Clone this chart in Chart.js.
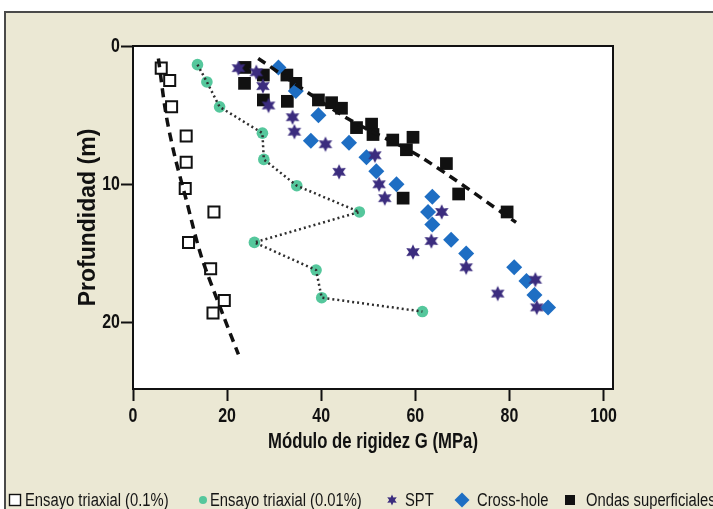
<!DOCTYPE html>
<html>
<head>
<meta charset="utf-8">
<script src="https://cdn.jsdelivr.net/npm/chart.js@4.4.1/dist/chart.umd.min.js"></script>
<style>
  html, body { margin: 0; padding: 0; background: #fff; }
  #wrap { position: relative; width: 713px; height: 509px; overflow: hidden; }
  #legend { position: absolute; left: 0; top: 492px; width: 713px; height: 17px;
            font: 18px "Liberation Sans", Arial, sans-serif; line-height: 16px;
            color: #151515; white-space: nowrap; }
  #legend span { position: absolute; top: 0; transform-origin: 0 50%; }
  #legend canvas { position: absolute; top: 0; }
</style>
</head>
<body>
<div id="wrap">
  <canvas id="chart" width="713" height="509"></canvas>
  <div id="legend"></div>
</div>
<script>
// Series names
const seriesNames = ["Ensayo triaxial (0.1%)", "Ensayo triaxial (0.01%)", "SPT", "Cross-hole", "Ondas superficiales"];

// Ensayo triaxial (0.1%) - open squares
const tri01G = [6.0, 7.8, 8.2, 11.3, 11.3, 11.1, 17.2, 11.8, 16.5, 19.4, 17.0];
const tri01Z = [1.6, 2.5, 4.4, 6.5, 8.4, 10.3, 12.0, 14.2, 16.1, 18.4, 19.3];
// dashed trend through the open squares
const trend01G = [5.4, 7.0, 8.9, 11.3, 14.5, 19.2, 22.4];
const trend01Z = [0.9, 4.9, 8.0, 11.1, 15.2, 19.5, 22.3];

// Ensayo triaxial (0.01%) - green circles joined by dotted line
const tri001G = [13.7, 15.7, 18.4, 27.5, 27.8, 34.8, 48.1, 25.8, 38.9, 40.1, 61.5];
const tri001Z = [1.35, 2.6, 4.4, 6.3, 8.2, 10.1, 12.0, 14.2, 16.2, 18.2, 19.2];

// SPT - stars
const sptG = [22.4, 26.2, 27.6, 28.8, 33.9, 34.3, 40.9, 43.8, 51.4, 52.3, 53.5, 65.6, 63.4, 59.5, 70.8, 77.5, 85.5, 85.8];
const sptZ = [1.6, 1.9, 2.9, 4.3, 5.15, 6.2, 7.1, 9.1, 7.9, 10.0, 11.0, 12.0, 14.1, 14.9, 16.0, 17.9, 16.9, 18.9];

// Cross-hole - diamonds
const crossG = [30.9, 34.6, 39.4, 37.8, 45.9, 49.6, 51.7, 56.0, 63.6, 62.7, 63.6, 67.6, 70.8, 81.0, 83.6, 85.3, 88.2];
const crossZ = [1.55, 3.25, 5.0, 6.85, 7.0, 8.05, 9.05, 10.0, 10.9, 12.0, 12.9, 14.0, 15.0, 16.0, 17.0, 18.0, 18.9];

// Ondas superficiales - black squares
const ondasG = [23.8, 23.7, 27.7, 27.7, 32.7, 32.8, 34.6, 39.4, 42.2, 44.3, 47.5, 50.7, 51.0, 55.2, 59.5, 58.1, 66.6, 57.4, 69.2, 79.5];
const ondasZ = [1.55, 2.7, 2.1, 3.9, 2.1, 4.0, 2.7, 3.9, 4.1, 4.5, 5.9, 5.65, 6.4, 6.8, 6.6, 7.5, 8.5, 11.0, 10.7, 12.0];
// dashed trend through the black squares
const trendOndasG = [26.6, 45.4, 61.0, 81.4];
const trendOndasZ = [0.9, 5.2, 8.0, 12.75];

// Axis ticks
const xTicks = [0, 20, 40, 60, 80, 100];
const yTicks = [0, 10, 20];

const pts = (g, z) => g.map((v, i) => ({ x: v, y: z[i] }));

const cGreen = "#55c79c";
const cPurple = "#3b2c7e";
const cBlue = "#1e6ec3";
const cBlack = "#111";
const SQUEEZE = 0.76; // the original figure's axis lettering is horizontally condensed

// six-pointed star used for SPT
function drawStar(ctx, cx, cy, R, r) {
  ctx.beginPath();
  for (let i = 0; i < 12; i++) {
    const a = -Math.PI / 2 + i * Math.PI / 6;
    const rr = i % 2 ? r : R;
    ctx.lineTo(cx + rr * Math.cos(a), cy + rr * Math.sin(a));
  }
  ctx.closePath();
  ctx.fillStyle = cPurple;
  ctx.fill();
}
const starImg = document.createElement("canvas");
starImg.width = 18; starImg.height = 18;
drawStar(starImg.getContext("2d"), 9, 9, 7.8, 4);

// condense horizontal chart text around its anchor point (rotated title left as is)
const canvas = document.getElementById("chart");
const c2d = canvas.getContext("2d");
const origFill = c2d.fillText;
c2d.fillText = function (text, x, y, maxWidth) {
  const m = this.getTransform();
  if (Math.abs(m.b) > 1e-6) return origFill.call(this, text, x, y, maxWidth);
  const p = m.transformPoint(new DOMPoint(x, y));
  this.save();
  this.setTransform(new DOMMatrix().translate(p.x, p.y).scale(SQUEEZE, 1).translate(-p.x, -p.y).multiply(m));
  origFill.call(this, text, x, y, maxWidth);
  this.restore();
};

const font = "'Liberation Sans', Arial, sans-serif";

// background, frame, white plot box
const framePlugin = {
  id: "frame",
  beforeDraw(chart) {
    const { ctx, chartArea: a } = chart;
    ctx.save();
    ctx.fillStyle = "#fff";
    ctx.fillRect(0, 0, chart.width, chart.height);
    ctx.fillStyle = "#ebe8d4";
    ctx.fillRect(5, 12, chart.width - 5, chart.height - 12);
    ctx.strokeStyle = "#4a4a4a";
    ctx.lineWidth = 2;
    ctx.beginPath();
    ctx.moveTo(5, chart.height); ctx.lineTo(5, 12); ctx.lineTo(chart.width, 12);
    ctx.stroke();
    ctx.fillStyle = "#fff";
    ctx.fillRect(a.left, a.top, a.right - a.left, a.bottom - a.top);
    ctx.restore();
  },
  afterDraw(chart) {
    const { ctx, chartArea: a } = chart;
    ctx.save();
    ctx.strokeStyle = cBlack;
    ctx.lineWidth = 2;
    ctx.beginPath();
    ctx.moveTo(a.left, a.top); ctx.lineTo(a.right, a.top); ctx.lineTo(a.right, a.bottom);
    ctx.stroke();
    ctx.restore();
  }
};

new Chart(canvas, {
  type: "scatter",
  data: {
    datasets: [
      { label: seriesNames[4], data: pts(ondasG, ondasZ), pointStyle: "rect", pointRadius: 9,
        backgroundColor: cBlack, borderColor: cBlack, borderWidth: 0, order: 9 },
      { label: seriesNames[3], data: pts(crossG, crossZ), pointStyle: "rectRot", pointRadius: 8,
        backgroundColor: cBlue, borderColor: cBlue, borderWidth: 0, order: 8 },
      { label: seriesNames[2], data: pts(sptG, sptZ), pointStyle: starImg, pointRadius: 8, order: 7 },
      { label: seriesNames[1], data: pts(tri001G, tri001Z), pointStyle: "circle", pointRadius: 5.8,
        backgroundColor: cGreen, borderColor: cGreen, borderWidth: 0, order: 6 },
      { label: "dotted", data: pts(tri001G, tri001Z), showLine: true, pointRadius: 0,
        borderColor: "#2e2e2e", borderWidth: 2.5, borderDash: [2, 3], order: 5 },
      { label: seriesNames[0], data: pts(tri01G, tri01Z), pointStyle: "rect", pointRadius: 7.8,
        backgroundColor: "#fff", borderColor: cBlack, borderWidth: 2, order: 4 },
      { label: "trend01", data: pts(trend01G, trend01Z), showLine: true, pointRadius: 0, tension: 0.3,
        borderColor: cBlack, borderWidth: 3.5, borderDash: [9, 6], order: 3 },
      { label: "trendOndas", data: pts(trendOndasG, trendOndasZ), showLine: true, pointRadius: 0, tension: 0.3,
        borderColor: cBlack, borderWidth: 3.5, borderDash: [9, 6], order: 2 }
    ]
  },
  options: {
    responsive: false,
    animation: false,
    layout: { padding: { left: 75, top: 46, right: 100, bottom: 54 } },
    plugins: { legend: { display: false }, tooltip: { enabled: false } },
    scales: {
      x: {
        type: "linear", min: 0, max: 102,
        afterBuildTicks: s => { s.ticks = xTicks.map(v => ({ value: v })); },
        afterFit: s => { s.height = 66; },
        ticks: { color: cBlack, padding: 3, font: { family: font, size: 21, weight: "bold" } },
        grid: { drawOnChartArea: false, tickLength: 12, tickWidth: 2, tickColor: cBlack },
        border: { color: cBlack, width: 2 },
        title: { display: true, text: "Módulo de rigidez G (MPa)", color: cBlack, padding: 0,
                 font: { family: font, size: 22, weight: "bold" } }
      },
      y: {
        type: "linear", reverse: true, min: 0, max: 24.8,
        afterBuildTicks: s => { s.ticks = yTicks.map(v => ({ value: v })); },
        afterFit: s => { s.width = 58; },
        ticks: { color: cBlack, padding: 1, font: { family: font, size: 21, weight: "bold" } },
        grid: { drawOnChartArea: false, tickLength: 12, tickWidth: 2, tickColor: cBlack },
        border: { color: cBlack, width: 2 },
        title: { display: true, text: "Profundidad (m)", color: cBlack, padding: 0,
                 font: { family: font, size: 23, weight: "bold" } }
      }
    }
  },
  plugins: [framePlugin]
});

// legend along the bottom edge
const legendMarkerX = [15, 203, 392, 462, 570];
const legendTextX = [25, 210, 405, 477, 586];
const legendMarkers = [
  ctx => { ctx.fillStyle = "#fff"; ctx.fillRect(2.5, 2.5, 11, 11); ctx.strokeStyle = cBlack; ctx.lineWidth = 1.4; ctx.strokeRect(2.5, 2.5, 11, 11); },
  ctx => { ctx.fillStyle = cGreen; ctx.beginPath(); ctx.arc(8, 8, 4, 0, Math.PI * 2); ctx.fill(); },
  ctx => { drawStar(ctx, 8, 8, 5.5, 2.8); },
  ctx => { ctx.fillStyle = cBlue; ctx.beginPath(); ctx.moveTo(8, 0.5); ctx.lineTo(15.5, 8); ctx.lineTo(8, 15.5); ctx.lineTo(0.5, 8); ctx.closePath(); ctx.fill(); },
  ctx => { ctx.fillStyle = cBlack; ctx.fillRect(3, 3, 10, 10); }
];
const legendEl = document.getElementById("legend");
seriesNames.forEach((name, i) => {
  const c = document.createElement("canvas");
  c.width = 16; c.height = 16;
  c.style.left = (legendMarkerX[i] - 8) + "px";
  legendMarkers[i](c.getContext("2d"));
  const t = document.createElement("span");
  t.style.left = legendTextX[i] + "px";
  t.style.transform = "scaleX(0.82)";
  t.textContent = name;
  legendEl.appendChild(c);
  legendEl.appendChild(t);
});
</script>
</body>
</html>
